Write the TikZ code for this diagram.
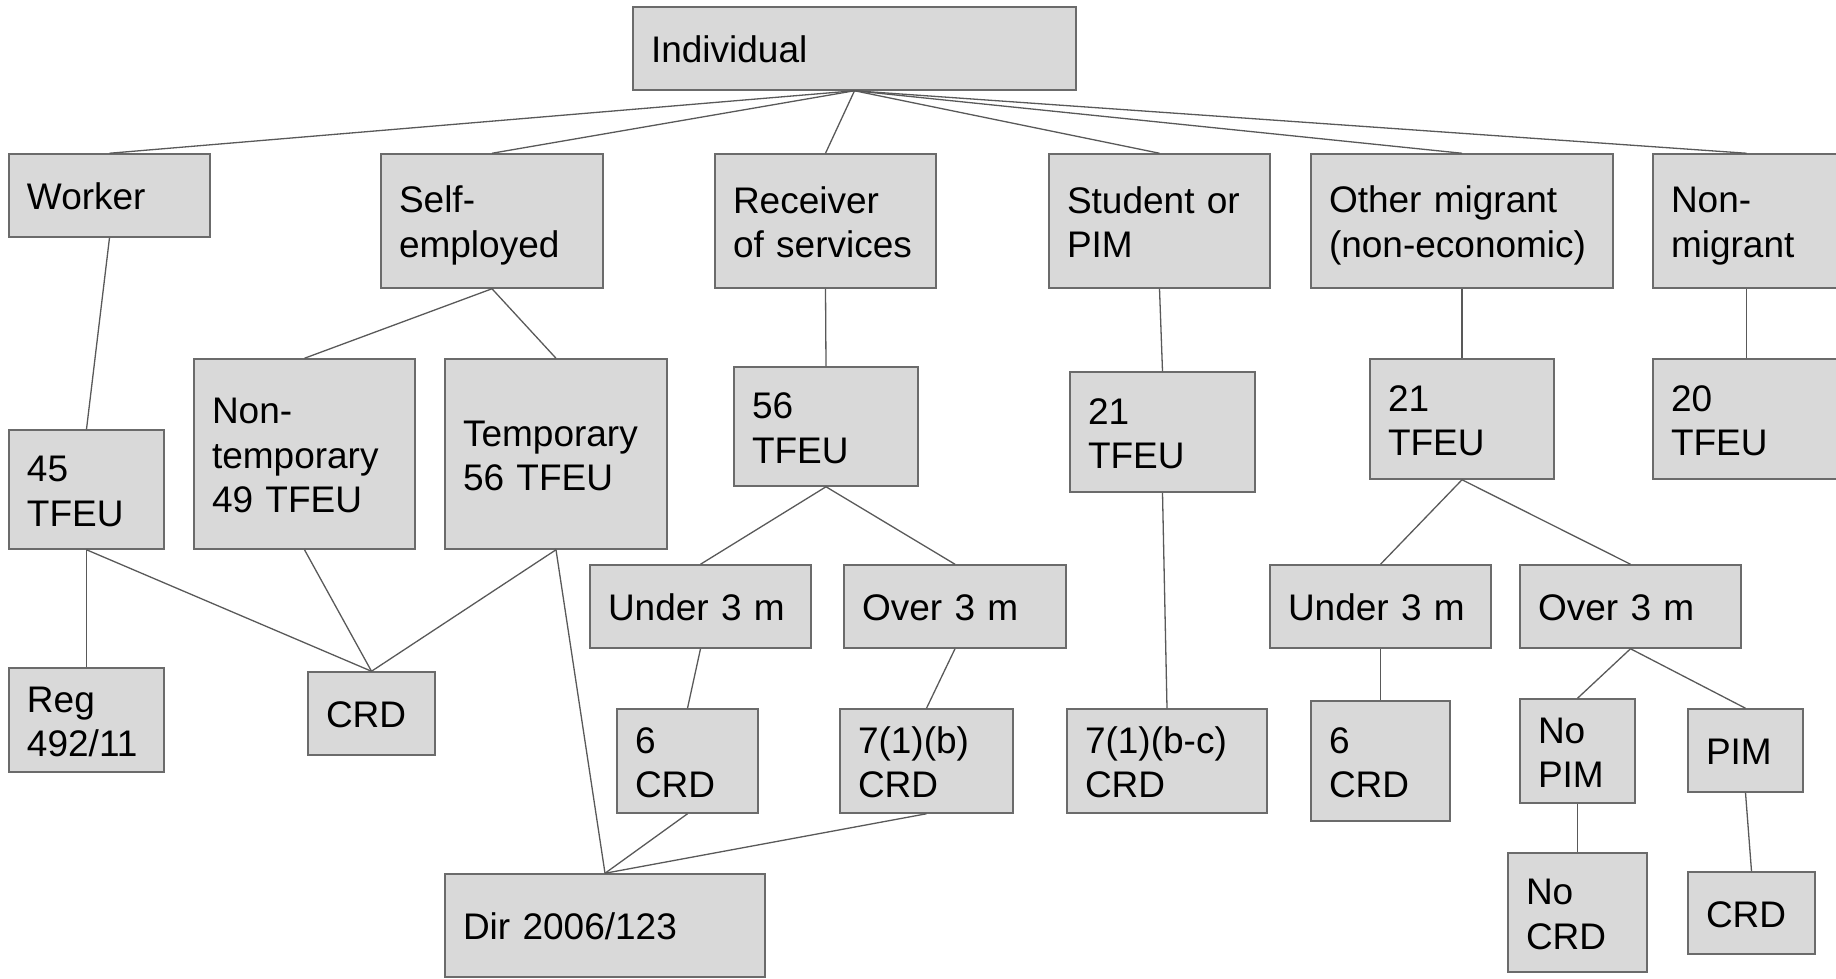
\documentclass[tikz,border=0pt]{standalone}
\usepackage{fontspec}
\setmainfont{Liberation Sans}
\definecolor{boxfill}{HTML}{D9D9D9}
\definecolor{boxline}{HTML}{6B6B6B}
\definecolor{conn}{HTML}{595959}
\tikzset{
  box/.style={draw=boxline, fill=boxfill, line width=1.5pt, rectangle, align=left,
    inner xsep=18pt, inner ysep=0pt, anchor=center,
    font=\fontsize{37}{44.5}\selectfont, text=black,
    execute at begin node={\rule{0pt}{35.5pt}},
    execute at end node={\rule[-7pt]{0pt}{0pt}}},
  link/.style={draw=conn, line width=1.3pt}
}
\newcommand\mybox[6]{%
  \pgfmathsetmacro\bxw{#4-#2}%
  \pgfmathsetmacro\bxh{#5-#3}%
  \pgfmathsetmacro\bxtw{#4-#2-36}%
  \node[box, minimum width=\bxw pt, minimum height=\bxh pt, text width=\bxtw pt] (#1) at ({(#2+#4)/2},{(#3+#5)/2}) {#6};}
\begin{document}
\begin{tikzpicture}[x=1pt,y=-1pt]
\useasboundingbox (0,0) rectangle (1836,978);
% boxes
\mybox{ind}{633}{7}{1076}{90}{Individual}
\mybox{worker}{9}{154}{210}{237}{Worker}
\mybox{self}{381}{154}{603}{288}{Self-\\employed}
\mybox{recv}{715}{154}{936}{288}{Receiver\\of services}
\mybox{stud}{1049}{154}{1270}{288}{Student or\\PIM}
\mybox{other}{1311}{154}{1613}{288}{Other migrant\\(non-economic)}
\mybox{nonmig}{1653}{154}{1840}{288}{Non-\\migrant}
\mybox{tA}{9}{430}{164}{549}{45\\TFEU}
\mybox{nontemp}{194}{359}{415}{549}{Non-\\temporary\\49 TFEU}
\mybox{temp}{445}{359}{667}{549}{Temporary\\56 TFEU}
\mybox{tB}{734}{367}{918}{486}{56\\TFEU}
\mybox{tC}{1070}{372}{1255}{492}{21\\TFEU}
\mybox{tD}{1370}{359}{1554}{479}{21\\TFEU}
\mybox{tE}{1653}{359}{1840}{479}{20\\TFEU}
\mybox{undA}{590}{565}{811}{648}{Under 3 m}
\mybox{ovA}{844}{565}{1066}{648}{Over 3 m}
\mybox{undB}{1270}{565}{1491}{648}{Under 3 m}
\mybox{ovB}{1520}{565}{1741}{648}{Over 3 m}
\mybox{reg}{9}{668}{164}{772}{Reg\\492/11}
\mybox{crdA}{308}{672}{435}{755}{CRD}
\mybox{crdsixA}{617}{709}{758}{813}{6\\CRD}
\mybox{crdsevb}{840}{709}{1013}{813}{7(1)(b)\\CRD}
\mybox{crdsevbc}{1067}{709}{1267}{813}{7(1)(b-c)\\CRD}
\mybox{crdsixB}{1311}{701}{1450}{821}{6\\CRD}
\mybox{nopim}{1520}{699}{1635}{803}{No\\PIM}
\mybox{pim}{1688}{709}{1803}{792}{PIM}
\mybox{dir}{445}{874}{765}{977}{Dir 2006/123}
\mybox{nocrd}{1508}{853}{1647}{972}{No\\CRD}
\mybox{crdB}{1688}{872}{1815}{954}{CRD}
% connectors
\foreach \c in {worker,self,recv,stud,other,nonmig}
  \draw[link] (ind.south) -- (\c.north);
\draw[link] (worker.south) -- (tA.north);
\draw[link] (self.south) -- (nontemp.north);
\draw[link] (self.south) -- (temp.north);
\draw[link] (recv.south) -- (tB.north);
\draw[link] (stud.south) -- (tC.north);
\draw[link] (other.south) -- (tD.north);
\draw[link] (nonmig.south) -- (tE.north);
\draw[link] (tA.south) -- (reg.north);
\draw[link] (tA.south) -- (crdA.north);
\draw[link] (nontemp.south) -- (crdA.north);
\draw[link] (temp.south) -- (crdA.north);
\draw[link] (temp.south) -- (dir.north);
\draw[link] (tB.south) -- (undA.north);
\draw[link] (tB.south) -- (ovA.north);
\draw[link] (undA.south) -- (crdsixA.north);
\draw[link] (ovA.south) -- (crdsevb.north);
\draw[link] (crdsixA.south) -- (dir.north);
\draw[link] (crdsevb.south) -- (dir.north);
\draw[link] (tC.south) -- (crdsevbc.north);
\draw[link] (tD.south) -- (undB.north);
\draw[link] (tD.south) -- (ovB.north);
\draw[link] (undB.south) -- (crdsixB.north);
\draw[link] (ovB.south) -- (nopim.north);
\draw[link] (ovB.south) -- (pim.north);
\draw[link] (nopim.south) -- (nocrd.north);
\draw[link] (pim.south) -- (crdB.north);
\end{tikzpicture}
\end{document}
